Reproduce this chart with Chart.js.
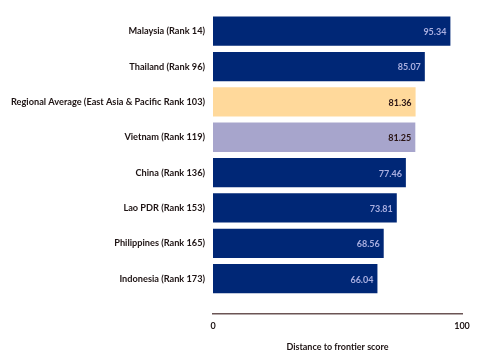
<!DOCTYPE html>
<html>
<head>
<meta charset="utf-8">
<script src="https://cdn.jsdelivr.net/npm/chart.js@4/dist/chart.umd.min.js"></script>
<style>
  html, body { margin: 0; padding: 0; background: #fff; }
  #wrap { width: 480px; height: 359px; }
</style>
</head>
<body>
<div id="wrap"><canvas id="chart" width="480" height="359"></canvas></div>
<script>
// Datos
const economies = [
  'Malaysia (Rank 14)',
  'Thailand (Rank 96)',
  'Regional Average (East Asia & Pacific Rank 103)',
  'Vietnam (Rank 119)',
  'China (Rank 136)',
  'Lao PDR (Rank 153)',
  'Philippines (Rank 165)',
  'Indonesia (Rank 173)'
];
const scores = [95.34, 85.07, 81.36, 81.25, 77.46, 73.81, 68.56, 66.04];
const barColors = ['#002776', '#002776', '#FFD99B', '#A7A5CC', '#002776', '#002776', '#002776', '#002776'];
const labelColors = ['#a9afe0', '#a9afe0', '#2a1414', '#2a1414', '#a9afe0', '#a9afe0', '#a9afe0', '#a9afe0'];
const xTicks = [0, 100];

const FONT = 'Lato, "Open Sans", sans-serif';

// Etiquetas de valor dentro de la barra
const valueLabels = {
  id: 'valueLabels',
  afterDatasetsDraw(chart) {
    const ctx = chart.ctx;
    const meta = chart.getDatasetMeta(0);
    ctx.save();
    ctx.font = 'bold 9px ' + FONT;
    ctx.textAlign = 'right';
    ctx.textBaseline = 'middle';
    meta.data.forEach((bar, i) => {
      ctx.fillStyle = labelColors[i];
      ctx.fillText(scores[i].toFixed(2), bar.x - 4, bar.y + 1);
    });
    ctx.restore();
  }
};

new Chart(document.getElementById('chart'), {
  type: 'bar',
  data: {
    datasets: [{
      data: scores.map((v, i) => ({ x: v, y: i })),
      backgroundColor: barColors,
      borderWidth: 0,
      barPercentage: 0.9,
      categoryPercentage: 0.92
    }]
  },
  options: {
    indexAxis: 'y',
    responsive: false,
    animation: false,
    layout: { padding: { top: 12.8, right: 18, bottom: 0, left: 0 } },
    plugins: {
      legend: { display: false },
      tooltip: { enabled: false }
    },
    scales: {
      y: {
        type: 'linear',
        reverse: true,
        offset: false,
        min: -0.5,
        max: 8,
        afterBuildTicks: s => { s.ticks = economies.map((_, i) => ({ value: i })); },
        afterFit: s => { s.width = 213; },
        grid: { display: false, drawTicks: false, offset: false },
        border: { display: false },
        ticks: {
          padding: 8,
          color: '#1e1414',
          font: { family: FONT, size: 9.2, weight: 'bold' },
          callback: v => economies[v] || ''
        }
      },
      x: {
        type: 'linear',
        min: 0,
        max: 100,
        afterBuildTicks: s => { s.ticks = xTicks.map(v => ({ value: v })); },
        afterFit: s => { s.height = 45; },
        grid: { display: false, drawTicks: false },
        border: { display: true, color: '#6b5555', width: 1.5 },
        ticks: {
          padding: 7,
          maxRotation: 0,
          color: '#1e1414',
          font: { family: FONT, size: 9, weight: 'bold' }
        },
        title: {
          display: true,
          text: 'Distance to frontier score',
          color: '#1e1414',
          font: { family: FONT, size: 9, weight: 'bold' },
          padding: { top: 2, bottom: 7 }
        }
      }
    }
  },
  plugins: [valueLabels]
});
</script>
</body>
</html>
